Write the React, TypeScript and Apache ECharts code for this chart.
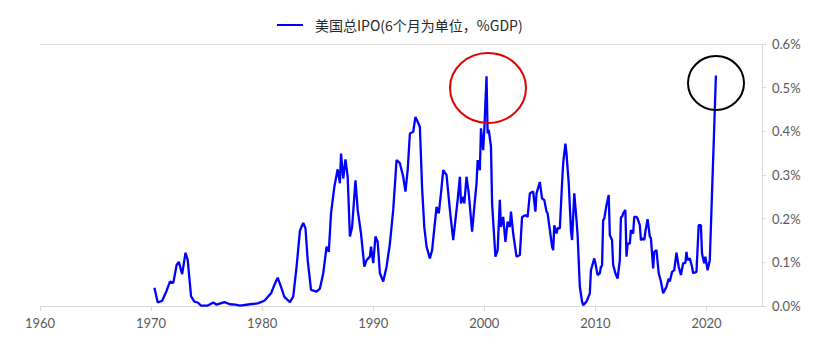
import React, { useEffect, useRef } from "react";
import * as echarts from "echarts";

const seriesName = "美国总IPO(6个月为单位，%GDP)";
const xTickYears = [1960, 1970, 1980, 1990, 2000, 2010, 2020];
const yTicks = [0, 0.1, 0.2, 0.3, 0.4, 0.5, 0.6];

const years = [
  1970.3, 1970.6, 1971.0, 1971.4, 1971.7, 1972.0, 1972.3, 1972.5, 1972.8, 1973.1,
  1973.3, 1973.6, 1973.9, 1974.2, 1974.5, 1975.1, 1975.6, 1975.9, 1976.6, 1977.1,
  1977.6, 1978.0, 1978.9, 1979.6, 1980.2, 1980.8, 1981.1, 1981.4, 1981.7, 1982.0,
  1982.5, 1982.8, 1983.1, 1983.4, 1983.6, 1983.7, 1983.9, 1984.1, 1984.4, 1984.9,
  1985.2, 1985.5, 1985.8, 1986.0, 1986.2, 1986.5, 1986.8, 1987.0, 1987.1, 1987.3,
  1987.5, 1987.7, 1987.9, 1988.1, 1988.4, 1988.6, 1988.9, 1989.2, 1989.4, 1989.7,
  1989.8, 1990.0, 1990.2, 1990.4, 1990.6, 1990.9, 1991.2, 1991.5, 1991.8, 1992.1,
  1992.4, 1992.7, 1992.9, 1993.1, 1993.3, 1993.6, 1993.8, 1994.0, 1994.2, 1994.4,
  1994.6, 1994.8, 1995.1, 1995.3, 1995.7, 1995.9, 1996.1, 1996.3, 1996.6, 1996.9,
  1997.2, 1997.4, 1997.6, 1997.8, 1997.9, 1998.1, 1998.2, 1998.4, 1998.6, 1998.9,
  1999.1, 1999.3, 1999.4, 1999.6, 1999.7, 1999.9, 2000.0, 2000.2, 2000.3, 2000.4,
  2000.6, 2000.7, 2001.0, 2001.2, 2001.4, 2001.5, 2001.7, 2001.9, 2002.1, 2002.3,
  2002.4, 2002.6, 2002.9, 2003.2, 2003.4, 2003.7, 2003.9, 2004.1, 2004.4, 2004.6,
  2004.7, 2005.0, 2005.2, 2005.4, 2005.6, 2005.7, 2005.9, 2006.1, 2006.2, 2006.3,
  2006.5, 2006.6, 2006.8, 2007.0, 2007.1, 2007.3, 2007.4, 2007.6, 2007.8, 2007.9,
  2008.1, 2008.3, 2008.4, 2008.6, 2008.8, 2008.9, 2009.2, 2009.5, 2009.6, 2009.9,
  2010.0, 2010.2, 2010.4, 2010.5, 2010.6, 2010.7, 2010.8, 2011.0, 2011.2, 2011.3,
  2011.5, 2011.6, 2011.8, 2012.0, 2012.2, 2012.3, 2012.4, 2012.5, 2012.7, 2012.8,
  2012.9, 2013.1, 2013.2, 2013.4, 2013.5, 2013.7, 2013.8, 2014.0, 2014.1, 2014.3,
  2014.4, 2014.5, 2014.7, 2014.9, 2015.0, 2015.2, 2015.3, 2015.5, 2015.7, 2015.9,
  2016.1, 2016.4, 2016.6, 2016.7, 2016.9, 2017.1, 2017.3, 2017.5, 2017.7, 2017.9,
  2018.1, 2018.2, 2018.3, 2018.5, 2018.7, 2018.8, 2019.1, 2019.3, 2019.5, 2019.6,
  2019.8, 2019.9, 2020.1, 2020.3, 2020.5, 2020.7, 2020.85,
];

const ipoPct = [
  0.042, 0.008, 0.012, 0.035, 0.056, 0.053, 0.094, 0.101, 0.073, 0.122,
  0.105, 0.022, 0.010, 0.008, 0.001, 0.001, 0.008, 0.003, 0.009, 0.004,
  0.003, 0.001, 0.004, 0.006, 0.012, 0.029, 0.048, 0.065, 0.044, 0.021,
  0.009, 0.022, 0.090, 0.172, 0.185, 0.190, 0.178, 0.105, 0.037, 0.033,
  0.040, 0.075, 0.136, 0.124, 0.212, 0.273, 0.313, 0.281, 0.349, 0.292,
  0.336, 0.296, 0.159, 0.181, 0.288, 0.220, 0.166, 0.090, 0.105, 0.113,
  0.136, 0.098, 0.159, 0.147, 0.075, 0.056, 0.090, 0.143, 0.220, 0.334,
  0.327, 0.296, 0.262, 0.311, 0.395, 0.399, 0.433, 0.422, 0.410, 0.270,
  0.180, 0.136, 0.109, 0.128, 0.227, 0.212, 0.258, 0.311, 0.300, 0.220,
  0.151, 0.197, 0.243, 0.296, 0.235, 0.250, 0.235, 0.296, 0.258, 0.170,
  0.227, 0.281, 0.334, 0.311, 0.407, 0.357, 0.403, 0.526, 0.395, 0.403,
  0.365, 0.235, 0.113, 0.128, 0.243, 0.181, 0.204, 0.147, 0.193, 0.181,
  0.216, 0.166, 0.113, 0.117, 0.204, 0.208, 0.204, 0.258, 0.262, 0.216,
  0.258, 0.284, 0.246, 0.243, 0.216, 0.212, 0.174, 0.136, 0.128, 0.185,
  0.166, 0.178, 0.178, 0.281, 0.327, 0.372, 0.349, 0.281, 0.174, 0.151,
  0.258, 0.197, 0.162, 0.044, 0.010, 0.002, 0.010, 0.029, 0.082, 0.109,
  0.098, 0.071, 0.075, 0.090, 0.092, 0.197, 0.200, 0.231, 0.254, 0.162,
  0.151, 0.094, 0.075, 0.063, 0.105, 0.204, 0.204, 0.212, 0.220, 0.113,
  0.143, 0.143, 0.174, 0.166, 0.204, 0.204, 0.200, 0.185, 0.151, 0.155,
  0.151, 0.170, 0.199, 0.159, 0.155, 0.086, 0.124, 0.128, 0.075, 0.056,
  0.029, 0.044, 0.063, 0.056, 0.078, 0.082, 0.122, 0.090, 0.071, 0.098,
  0.098, 0.124, 0.105, 0.109, 0.090, 0.075, 0.078, 0.185, 0.185, 0.120,
  0.098, 0.113, 0.082, 0.105, 0.258, 0.410, 0.528,
];

export default function App() {
  const ref = useRef<HTMLDivElement>(null);

  useEffect(() => {
    document.body.style.margin = "0";
    if (!ref.current) return;
    const chart = echarts.init(ref.current, null, { renderer: "svg" });
    const data = years.map((y, i) => [y, ipoPct[i]]);
    const axisColor = "#d9d9d9";
    const labelColor = "#595959";
    chart.setOption({
      animation: false,
      backgroundColor: "#ffffff",
      grid: { left: 40, right: 70, top: 44, bottom: 54 },
      legend: {
        left: 272,
        top: 13,
        itemWidth: 26,
        itemHeight: 14,
        itemGap: 10,
        textStyle: {
          fontFamily: "Noto Sans CJK SC",
          fontSize: 14,
          color: "#262626",
          padding: [0, 0, 0, 7],
        },
        data: [{ name: seriesName, icon: "path://M0,6 L26,6 L26,8 L0,8 Z" }],
      },
      xAxis: [
        {
          type: "value",
          min: 1960,
          max: 2025,
          interval: 10,
          axisLine: { show: true, lineStyle: { color: axisColor, width: 1 } },
          axisTick: {
            show: true,
            length: 5,
            lineStyle: { color: axisColor },
            customValues: xTickYears,
          },
          axisLabel: {
            color: labelColor,
            fontSize: 13,
            fontFamily: "Lato",
            margin: 10,
            customValues: xTickYears,
            formatter: (v: number) => String(v),
          },
          splitLine: { show: false },
        },
        {
          type: "value",
          position: "top",
          min: 1960,
          max: 2025,
          axisLine: { show: true, lineStyle: { color: axisColor, width: 1 } },
          axisTick: { show: false },
          axisLabel: { show: false },
          splitLine: { show: false },
        },
      ],
      yAxis: {
        type: "value",
        position: "right",
        min: 0,
        max: 0.6,
        interval: 0.1,
        axisLine: { show: true, lineStyle: { color: axisColor, width: 1 } },
        axisTick: { show: true, length: 4, lineStyle: { color: axisColor } },
        axisLabel: {
          color: labelColor,
          fontSize: 13,
          fontFamily: "Lato",
          margin: 10,
          customValues: yTicks,
          formatter: (v: number) => v.toFixed(1) + "%",
        },
        splitLine: { show: false },
      },
      series: [
        {
          name: seriesName,
          type: "line",
          xAxisIndex: 0,
          symbol: "none",
          showSymbol: false,
          lineStyle: { color: "#0000ff", width: 2.3 },
          itemStyle: { color: "#0000ff" },
          data,
        },
      ],
      graphic: [
        {
          type: "ellipse",
          shape: { cx: 488, cy: 88, rx: 38, ry: 35 },
          style: { fill: "none", stroke: "#e00000", lineWidth: 2 },
          z: 10,
        },
        {
          type: "ellipse",
          shape: { cx: 716, cy: 83, rx: 28, ry: 27 },
          style: { fill: "none", stroke: "#000000", lineWidth: 2 },
          z: 10,
        },
      ],
    });
    return () => chart.dispose();
  }, []);

  return <div ref={ref} style={{ width: 832, height: 360 }} />;
}
